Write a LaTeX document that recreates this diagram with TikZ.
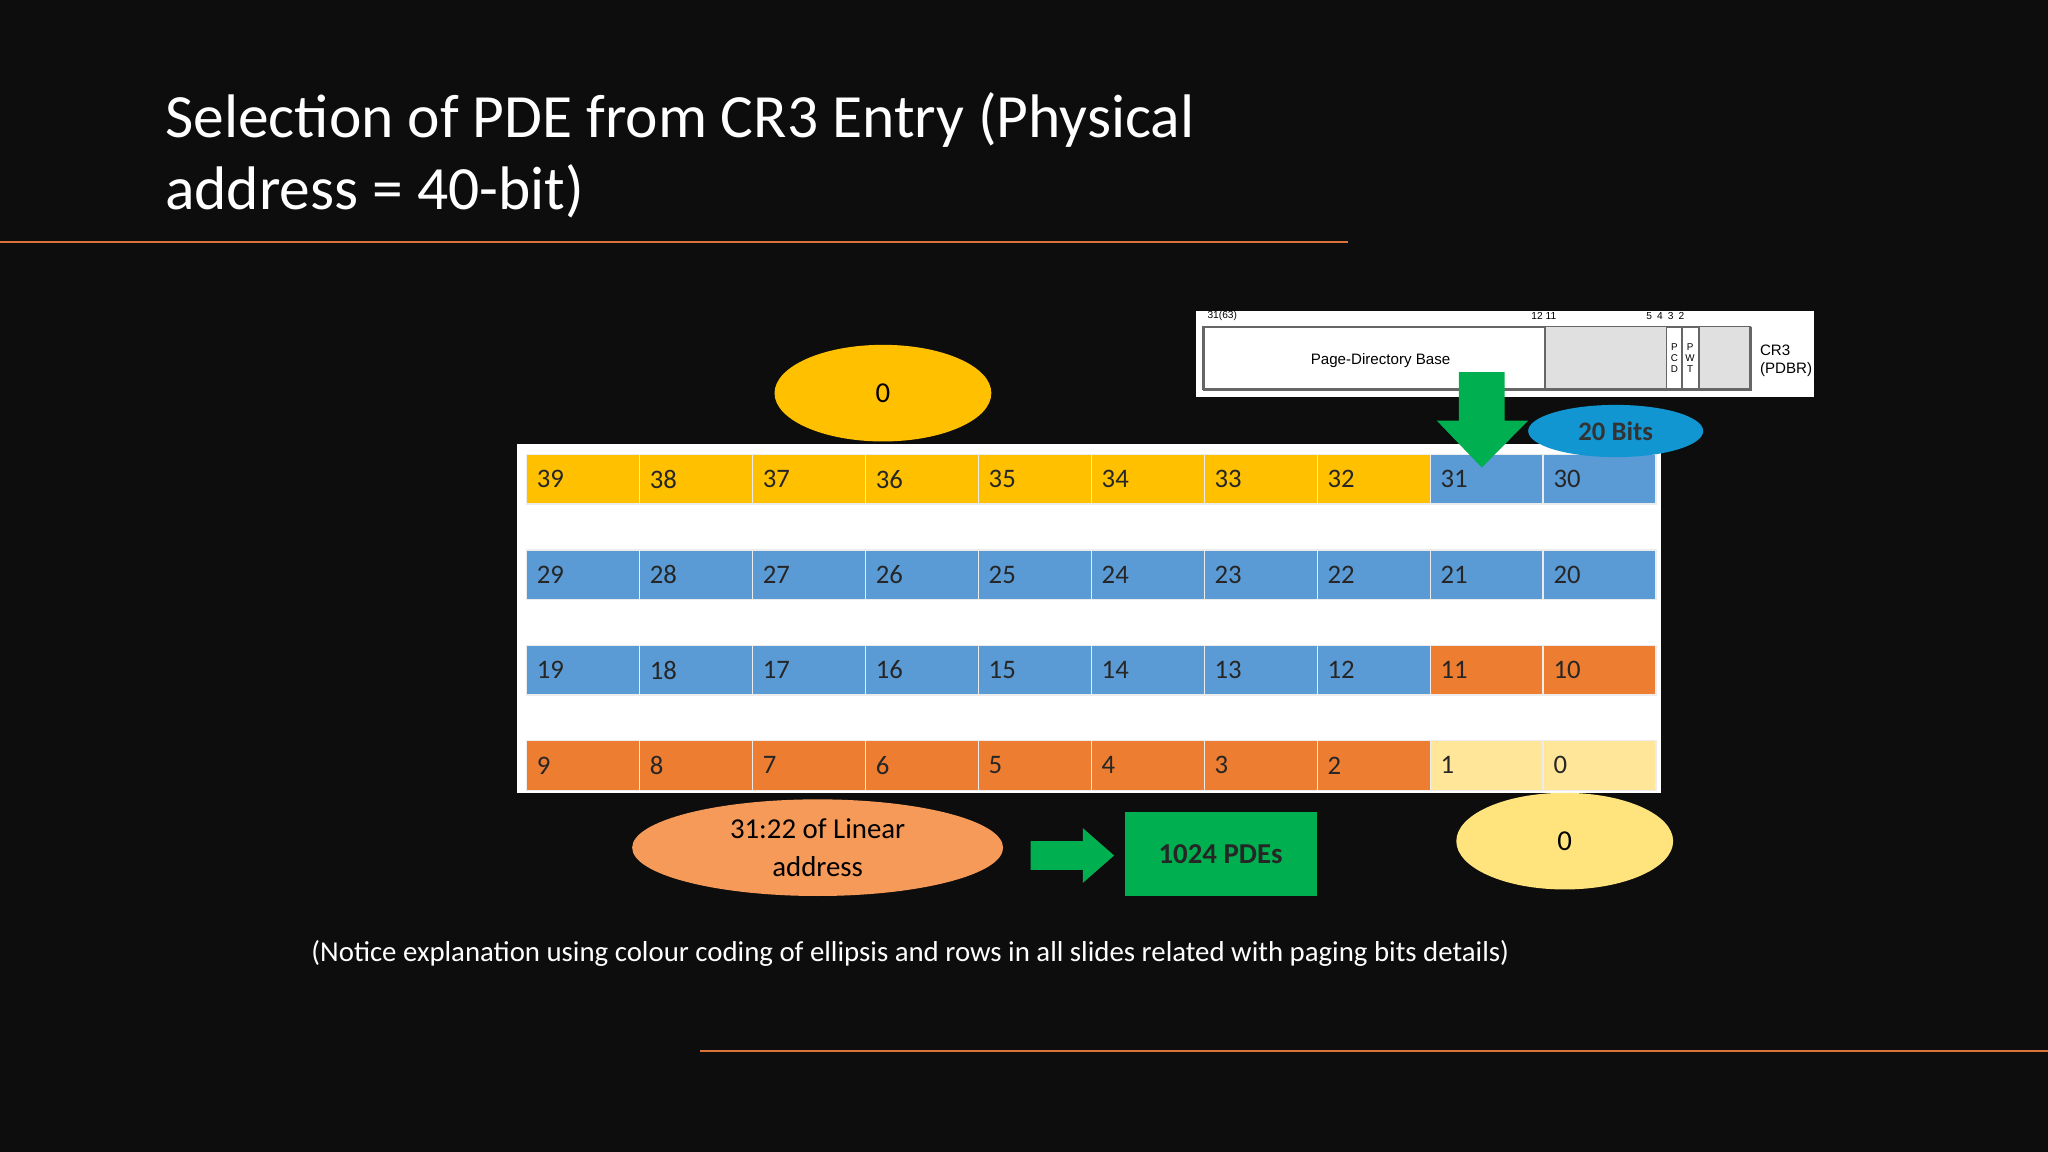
\documentclass[tikz,border=0pt]{standalone}
\usepackage{fontspec}
\setmainfont{Carlito}
\newfontfamily\arialf{Liberation Sans}
\usetikzlibrary{shapes.geometric,shapes.arrows}
\definecolor{bg}{HTML}{0D0D0D}
\definecolor{cy}{HTML}{FFC000}
\definecolor{cb}{HTML}{5B9BD5}
\definecolor{co}{HTML}{ED7D31}
\definecolor{cl}{HTML}{FFE699}
\definecolor{cg}{HTML}{00B050}
\definecolor{line}{HTML}{D9733A}
\begin{document}
\begin{tikzpicture}[x=0.0130612cm,y=-0.0130612cm,
  cell/.style={draw=white!85!gray,line width=0.4pt,minimum width=86.5*0.0130612cm,minimum height=38*0.0130612cm,inner sep=0pt,text depth=0pt,font=\fontsize{7.6}{8}\selectfont},
  ell/.style={ellipse,inner sep=0pt,align=center,text=black},
  tiny/.style={font=\arialf\fontsize{2.9}{3}\selectfont,inner sep=0pt,text=black}]
\fill[bg] (0,0) rectangle (1568,882);
\useasboundingbox (0,0) rectangle (1568,882);
\node[anchor=west,text=white,align=left,font=\fontsize{17.5}{20.5}\selectfont] (title) at (117,119) {Selection of PDE from CR3 Entry (Physical\\address = 40-bit)};
\draw[line,line width=0.6pt] (0,185) -- (1032,185);
\draw[line,line width=0.6pt] (536,805) -- (1568,805);
% grid
\fill[white] (396,340) rectangle (1272,607);
\foreach \r/\y in {0/367,1/440,2/513,3/586}{
 \foreach \c in {0,...,9}{
  \pgfmathtruncatemacro{\n}{39-10*\r-\c}
  \pgfmathsetmacro{\xx}{446.25+86.5*\c}
  \ifnum\n>31 \def\cc{cy}\else\ifnum\n>11 \def\cc{cb}\else\ifnum\n>1 \def\cc{co}\else\def\cc{cl}\fi\fi\fi
  \node[cell,fill=\cc] (c\n) at (\xx,\y) {};
  \node[anchor=west,inner sep=0pt,font=\fontsize{7.6}{8}\selectfont,text=black!85] at ([xshift=8*0.0130612cm]c\n.west) {\n};
 }}
% CR3 picture
\fill[white] (916,238) rectangle (1389,304);
\node[draw=black!60,line width=0.5pt,minimum width=419*0.0130612cm,minimum height=48*0.0130612cm,inner sep=0pt,anchor=north west] (cr3) at (921,250) {};
\fill[black!12] (1183,250) rectangle (1276,298);
\fill[black!12] (1301,250) rectangle (1340,298);
\draw[black!60,line width=0.5pt] (1183,250)--(1183,298) (1276,250)--(1276,298) (1288,250)--(1288,298) (1301,250)--(1301,298);
\draw[black!60,line width=0.5pt] (921,250) rectangle (1340,298);
\node[tiny,font=\arialf\fontsize{4.3}{5}\selectfont] (pdb) at (1057,276) {Page-Directory Base};
\node[tiny,anchor=west] (b31) at (924,242) {31(63)};
\node[tiny] (b12) at (1182,242) {12 11};
\node[tiny] (b54) at (1275,242) {5\,\,\,4\,\,\,3\,\,\,2};
\node[tiny,align=center,font=\arialf\fontsize{2.8}{3.2}\selectfont] (pcd) at (1282,274) {P\\C\\D};
\node[tiny,align=center,font=\arialf\fontsize{2.8}{3.2}\selectfont] (pwt) at (1294,274) {P\\W\\T};
\node[tiny,anchor=west,align=left,font=\arialf\fontsize{4.3}{5.2}\selectfont] (crl) at (1347,276) {CR3\\(PDBR)};
\fill[bg] (1389,238) rectangle (1395,304);
% green down arrow
\fill[cg] (1117,285) -- (1152,285) -- (1152,322) -- (1170,322) -- (1134.5,358) -- (1100,322) -- (1117,322) -- cycle;
\coordinate (dtip) at (1134.5,358);
% ellipses
\node[ell,fill=cy,minimum width=166*0.0130612cm,minimum height=74*0.0130612cm,font=\fontsize{8.2}{9}\selectfont] (e0) at (676,301) {0};
\node[ell,fill={rgb,255:red,18;green,150;blue,210},minimum width=134*0.0130612cm,minimum height=40*0.0130612cm,font=\fontsize{7.6}{8}\selectfont\bfseries,text=black!80] (e20) at (1237,330) {20 Bits};
\node[ell,fill={rgb,255:red,246;green,154;blue,90},minimum width=284*0.0130612cm,minimum height=74*0.0130612cm,font=\fontsize{8.2}{10.8}\selectfont] (elin) at (626,649) {31:22 of Linear\\address};
\node[ell,fill={rgb,255:red,255;green,228;blue,125},minimum width=166*0.0130612cm,minimum height=74*0.0130612cm,font=\fontsize{8.2}{9}\selectfont] (el0) at (1198,644) {0};
\node[fill=cg,minimum width=147*0.0130612cm,minimum height=64*0.0130612cm,inner sep=0pt,font=\fontsize{8.2}{9}\selectfont\bfseries,text=black!85] (pde) at (934.5,654) {1024 PDEs};
\fill[cg] (789,644) -- (829,644) -- (829,634) -- (853,655) -- (829,676) -- (829,666) -- (789,666) -- cycle;
\node[text=white,font=\fontsize{8.2}{9}\selectfont] (note) at (697,730) {(Notice explanation using colour coding of ellipsis and rows in all slides related with paging bits details)};
\end{tikzpicture}
\end{document}
